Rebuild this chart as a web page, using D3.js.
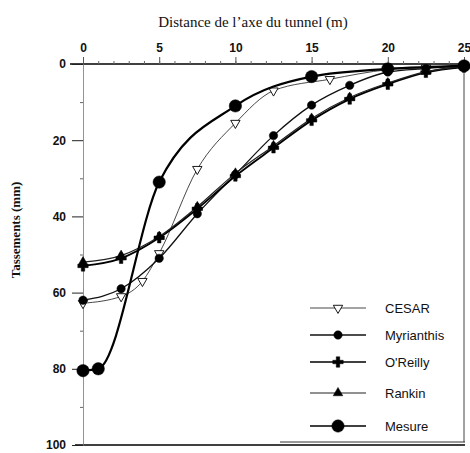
<!DOCTYPE html>
<html>
<head>
<meta charset="utf-8">
<script src="https://cdn.jsdelivr.net/npm/d3@7"></script>
<style>
  html, body { margin: 0; padding: 0; background: #fff; }
  svg { display: block; }
</style>
</head>
<body>
<svg id="chart" width="470" height="453"></svg>
<script>
// Settlement profiles across the tunnel axis (mm vs m)
const xTicks = [0, 5, 10, 15, 20, 25];
const yTicks = [0, 20, 40, 60, 80, 100];

const xCesar = [0, 2.5, 3.9, 5, 7.5, 10, 12.5, 16.2, 20, 22.5, 25];
const cesar  = [62.8, 61, 57, 49.7, 27.6, 15.5, 7, 4, 1.5, 1, 0.5];

const xMyrianthis = [0, 2.5, 5, 7.5, 10, 12.5, 15, 17.5, 20, 22.5, 25];
const myrianthis  = [62, 59, 51, 39.3, 29, 18.8, 10.8, 5.6, 2.1, 1.2, 0.5];

const xOReilly = [0, 2.5, 5, 7.5, 10, 12.5, 15, 17.5, 20, 22.5, 25];
const oreilly  = [53, 51, 45.6, 38, 29.4, 22, 14.8, 9.2, 5.3, 2.2, 0.8];

const xRankin = [0, 2.5, 5, 7.5, 10, 12.5, 15, 17.5, 20, 22.5, 25];
const rankin  = [52, 50.3, 45.3, 37.5, 28.7, 21.5, 14.3, 8.8, 5, 2, 0.6];

const xMesure = [0, 1, 5, 10, 15, 20, 25];
const mesure  = [80.5, 80, 31, 11, 3.3, 1.3, 0.5];

const seriesNames = ["CESAR", "Myrianthis", "O'Reilly", "Rankin", "Mesure"];

const svg = d3.select("#chart");
const x = d3.scaleLinear().domain([0, 25]).range([83, 464]);
const y = d3.scaleLinear().domain([0, 100]).range([64, 445]);

const series = [
  { name: seriesNames[0], xs: xCesar, ys: cesar, width: 0.9, color: "#333",
    sym: d3.symbolTriangle, size: 38, rot: 180, fill: "#fff", sw: 0.9 },
  { name: seriesNames[1], xs: xMyrianthis, ys: myrianthis, width: 1.3, color: "#111",
    sym: d3.symbolCircle, size: 55, rot: 0, fill: "#000", sw: 0.5 },
  { name: seriesNames[2], xs: xOReilly, ys: oreilly, width: 1.9, color: "#000",
    sym: d3.symbolCross, size: 60, rot: 0, fill: "#000", sw: 0.5 },
  { name: seriesNames[3], xs: xRankin, ys: rankin, width: 1.2, color: "#222",
    sym: d3.symbolTriangle, size: 40, rot: 0, fill: "#000", sw: 0.5 },
  { name: seriesNames[4], xs: xMesure, ys: mesure, width: 2.2, color: "#000",
    sym: d3.symbolCircle, size: 120, rot: 0, fill: "#000", sw: 0.5 }
];

// Frame: top axis line, right edge, bottom edge
svg.append("line").attr("x1", 70).attr("x2", x(25) + 2).attr("y1", y(0)).attr("y2", y(0))
  .attr("stroke", "#000").attr("stroke-width", 1.4);
svg.append("line").attr("x1", x(25)).attr("x2", x(25)).attr("y1", y(0)).attr("y2", 442)
  .attr("stroke", "#444").attr("stroke-width", 1);
svg.append("line").attr("x1", 75).attr("x2", x(25) + 1).attr("y1", y(100)).attr("y2", y(100))
  .attr("stroke", "#000").attr("stroke-width", 1.6);

// Top x axis
const xAxis = d3.axisTop(x).tickValues(xTicks).tickSize(7).tickPadding(5)
  .tickFormat(d3.format("d"));
const gx = svg.append("g").attr("transform", `translate(0,${y(0)})`).call(xAxis);
gx.select(".domain").remove();
gx.selectAll(".tick line").attr("stroke", "#555");
gx.selectAll(".tick text")
  .attr("font-family", "Liberation Sans, Arial, sans-serif")
  .attr("font-size", 12).attr("font-weight", "bold").attr("fill", "#111");
svg.append("g").attr("transform", `translate(0,${y(0)})`)
  .call(d3.axisTop(x).tickValues(d3.range(1, 25)).tickSize(3).tickFormat(""))
  .call(g => g.select(".domain").remove())
  .selectAll(".tick line").attr("stroke", "#666");

// Left y axis
const yAxis = d3.axisLeft(y).tickValues(yTicks).tickSize(11).tickPadding(6)
  .tickFormat(d3.format("d"));
const gy = svg.append("g").attr("transform", `translate(${x(0)},0)`).call(yAxis);
gy.select(".domain").attr("stroke", "#777").attr("stroke-width", 0.8);
gy.selectAll(".tick line").attr("stroke", "#222");
gy.selectAll(".tick text")
  .attr("font-family", "Liberation Sans, Arial, sans-serif")
  .attr("font-size", 12).attr("font-weight", "bold").attr("fill", "#111");
svg.append("g").attr("transform", `translate(${x(0)},0)`)
  .call(d3.axisLeft(y).tickValues([10, 30, 50, 70, 90]).tickSize(3).tickFormat(""))
  .call(g => g.select(".domain").remove())
  .selectAll(".tick line").attr("stroke", "#666");

// Axis titles
svg.append("text").attr("x", 253).attr("y", 27).attr("text-anchor", "middle")
  .attr("font-family", "Liberation Serif, Times New Roman, serif")
  .attr("font-size", 15).attr("fill", "#111")
  .text("Distance de l\u2019axe du tunnel (m)");
svg.append("text")
  .attr("transform", `translate(20,230) rotate(-90)`)
  .attr("text-anchor", "middle")
  .attr("font-family", "Liberation Serif, Times New Roman, serif")
  .attr("font-size", 13).attr("font-weight", "bold").attr("fill", "#111")
  .text("Tassements (mm)");

// Curves and markers
const line = d3.line().curve(d3.curveMonotoneX)
  .x(d => x(d[0])).y(d => y(d[1]));

series.forEach(s => {
  const pts = s.xs.map((v, i) => [v, s.ys[i]]);
  svg.append("path").datum(pts).attr("d", line)
    .attr("fill", "none").attr("stroke", s.color).attr("stroke-width", s.width);
  svg.append("g").selectAll("path").data(pts).join("path")
    .attr("d", d3.symbol().type(s.sym).size(s.size))
    .attr("transform", d => `translate(${x(d[0])},${y(d[1])}) rotate(${s.rot})`)
    .attr("fill", s.fill).attr("stroke", "#000").attr("stroke-width", s.sw);
});

// Legend
const legendY = [308, 335, 362, 393, 426];
const lg = svg.append("g");
series.forEach((s, i) => {
  const g = lg.append("g").attr("transform", `translate(0,${legendY[i]})`);
  g.append("line").attr("x1", 310).attr("x2", 366).attr("y1", 0).attr("y2", 0)
    .attr("stroke", s.color).attr("stroke-width", Math.min(s.width, 1.6));
  g.append("path").attr("d", d3.symbol().type(s.sym).size(s.size))
    .attr("transform", `translate(338,0) rotate(${s.rot})`)
    .attr("fill", s.fill).attr("stroke", "#000").attr("stroke-width", s.sw);
  g.append("text").attr("x", 385).attr("y", 5)
    .attr("font-family", "Liberation Sans, Arial, sans-serif")
    .attr("font-size", 13).attr("fill", "#111").text(s.name);
});
// Legend frame (right and bottom edges)
svg.append("line").attr("x1", 280).attr("x2", 465).attr("y1", 442).attr("y2", 442)
  .attr("stroke", "#333").attr("stroke-width", 1);
</script>
</body>
</html>
